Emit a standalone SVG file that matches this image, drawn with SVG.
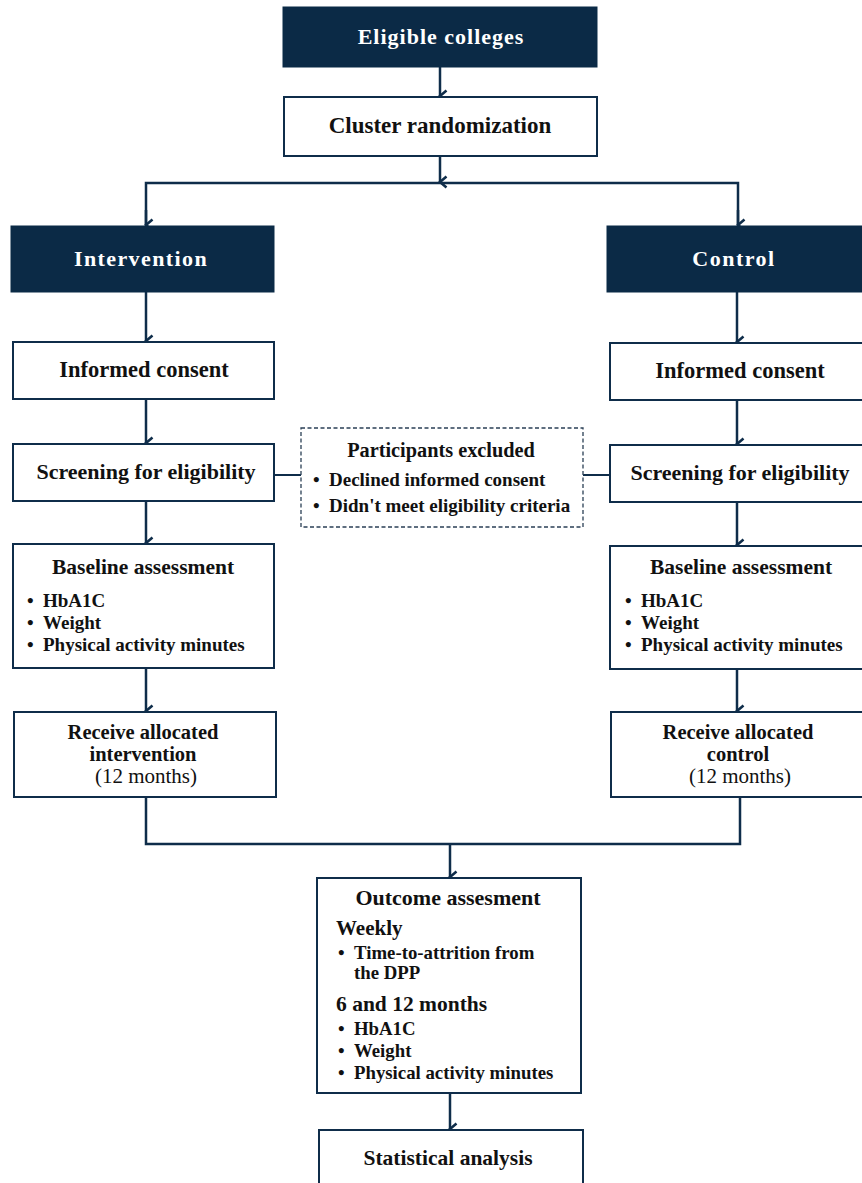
<svg xmlns="http://www.w3.org/2000/svg" width="862" height="1183" viewBox="0 0 862 1183">
<style>
text{font-family:"Liberation Serif","DejaVu Serif",serif;font-weight:bold;fill:#111}
.dark{fill:#0b2a46;stroke:#0b2a46;stroke-width:1}
.box{fill:#fff;stroke:#0f2d4a;stroke-width:2}
.dash{fill:#fff;stroke:#2a3f55;stroke-width:1.3;stroke-dasharray:4 2.5}
.wt{fill:#fff;font-size:22px;letter-spacing:1px}
.t{font-size:21.5px}
.b{font-size:19px}
.c{text-anchor:middle}
.reg{font-weight:normal}
.ln{fill:none;stroke:#0f2d4a;stroke-width:2.5}
</style>
<defs>
<marker id="ah" viewBox="0 0 14 12" refX="7" refY="10" markerWidth="14" markerHeight="12" markerUnits="userSpaceOnUse" orient="auto-start-reverse">
<path d="M1.5,3.5 L7,10 L12.5,3.5" fill="none" stroke="#0f2d4a" stroke-width="2.6"/>
</marker>
</defs>
<g id="connectors">
<line class="ln" x1="440" y1="67" x2="440" y2="96" marker-end="url(#ah)"/>
<line class="ln" x1="440" y1="156" x2="440" y2="182" marker-end="url(#ah)"/>
<polyline class="ln" points="146,225 146,183 738,183 738,225"/>
<line class="ln" x1="146" y1="210" x2="146" y2="225" marker-end="url(#ah)"/>
<line class="ln" x1="738" y1="210" x2="738" y2="225" marker-end="url(#ah)"/>
<line class="ln" x1="146" y1="292" x2="146" y2="341" marker-end="url(#ah)"/>
<line class="ln" x1="737" y1="292" x2="737" y2="342" marker-end="url(#ah)"/>
<line class="ln" x1="146" y1="399" x2="146" y2="443" marker-end="url(#ah)"/>
<line class="ln" x1="737" y1="400" x2="737" y2="444" marker-end="url(#ah)"/>
<line class="ln" x1="146" y1="501" x2="146" y2="543" marker-end="url(#ah)"/>
<line class="ln" x1="737" y1="502" x2="737" y2="545" marker-end="url(#ah)"/>
<line class="ln" x1="146" y1="668" x2="146" y2="711" marker-end="url(#ah)"/>
<line class="ln" x1="737" y1="669" x2="737" y2="711" marker-end="url(#ah)"/>
<line class="ln" x1="274" y1="475" x2="301" y2="475" style="stroke-width:2"/>
<line class="ln" x1="583" y1="475" x2="610" y2="475" style="stroke-width:2"/>
<polyline class="ln" points="146,797 146,844 740,844 740,797"/>
<line class="ln" x1="450" y1="844" x2="450" y2="877" marker-end="url(#ah)"/>
<line class="ln" x1="450" y1="1093" x2="450" y2="1129" marker-end="url(#ah)"/>
</g>
<g id="eligible">
<rect class="dark" x="283" y="7" width="314" height="60"/>
<text class="wt c" x="441" y="44">Eligible colleges</text>
</g>
<g id="cluster">
<rect class="box" x="284" y="97" width="313" height="59"/>
<text class="t c" x="440" y="133" style="font-size:23px">Cluster randomization</text>
</g>
<g id="intervention">
<rect class="dark" x="11" y="226" width="263" height="66"/>
<text class="wt c" x="141" y="266" style="letter-spacing:1.4px">Intervention</text>
</g>
<g id="control">
<rect class="dark" x="607" y="226" width="262" height="66"/>
<text class="wt c" x="734" y="266" style="letter-spacing:1.5px">Control</text>
</g>
<g id="consent-left">
<rect class="box" x="13" y="342" width="261" height="57"/>
<text class="t c" x="144" y="377" style="font-size:22.5px">Informed consent</text>
</g>
<g id="consent-right">
<rect class="box" x="610" y="343" width="258" height="57"/>
<text class="t c" x="740" y="378" style="font-size:22.5px">Informed consent</text>
</g>
<g id="screen-left">
<rect class="box" x="13" y="444" width="261" height="57"/>
<text class="t c" x="146" y="479" style="font-size:22px">Screening for eligibility</text>
</g>
<g id="screen-right">
<rect class="box" x="610" y="445" width="258" height="57"/>
<text class="t c" x="740" y="480" style="font-size:22px">Screening for eligibility</text>
</g>
<g id="excluded">
<rect class="dash" x="301" y="428" width="282" height="99"/>
<text class="t c" x="441" y="457" style="font-size:20.3px">Participants excluded</text>
<text class="b" x="313" y="486">•</text><text class="b" x="329" y="486">Declined informed consent</text>
<text class="b" x="313" y="512">•</text><text class="b" x="329" y="512">Didn't meet eligibility criteria</text>
</g>
<g id="baseline-left">
<rect class="box" x="13" y="544" width="261" height="124"/>
<text class="t c" x="143" y="574">Baseline assessment</text>
<text class="b" x="27" y="607">•</text><text class="b" x="43" y="607">HbA1C</text>
<text class="b" x="27" y="629">•</text><text class="b" x="43" y="629">Weight</text>
<text class="b" x="27" y="651">•</text><text class="b" x="43" y="651">Physical activity minutes</text>
</g>
<g id="baseline-right">
<rect class="box" x="610" y="546" width="258" height="123"/>
<text class="t c" x="741" y="574">Baseline assessment</text>
<text class="b" x="625" y="607">•</text><text class="b" x="641" y="607">HbA1C</text>
<text class="b" x="625" y="629">•</text><text class="b" x="641" y="629">Weight</text>
<text class="b" x="625" y="651">•</text><text class="b" x="641" y="651">Physical activity minutes</text>
</g>
<g id="receive-left">
<rect class="box" x="14" y="712" width="262" height="85"/>
<text class="t c" x="143" y="739" style="font-size:20.5px">Receive allocated</text>
<text class="t c" x="143" y="761" style="font-size:20.5px">intervention</text>
<text class="t c reg" x="146" y="783" style="font-size:21px">(12 months)</text>
</g>
<g id="receive-right">
<rect class="box" x="611" y="712" width="257" height="85"/>
<text class="t c" x="738" y="739" style="font-size:20.5px">Receive allocated</text>
<text class="t c" x="738" y="761" style="font-size:20.5px">control</text>
<text class="t c reg" x="740" y="783" style="font-size:21px">(12 months)</text>
</g>
<g id="outcome">
<rect class="box" x="317" y="878" width="264" height="215"/>
<text class="t c" x="448" y="905" style="font-size:22px">Outcome assesment</text>
<text class="t" x="336" y="935" style="font-size:21px">Weekly</text>
<text class="b" x="338" y="959" style="font-size:18.8px">•</text><text class="b" x="354" y="959" style="font-size:18.8px">Time-to-attrition from</text>
<text class="b" x="354" y="979" style="font-size:18.8px">the DPP</text>
<text class="t" x="336" y="1011" style="font-size:21.5px">6 and 12 months</text>
<text class="b" x="338" y="1035" style="font-size:18.8px">•</text><text class="b" x="354" y="1035" style="font-size:18.8px">HbA1C</text>
<text class="b" x="338" y="1057" style="font-size:18.8px">•</text><text class="b" x="354" y="1057" style="font-size:18.8px">Weight</text>
<text class="b" x="338" y="1079" style="font-size:18.8px">•</text><text class="b" x="354" y="1079" style="font-size:18.8px">Physical activity minutes</text>
</g>
<g id="statistical">
<rect class="box" x="319" y="1130" width="264" height="70"/>
<text class="t c" x="448" y="1165">Statistical analysis</text>
</g>
</svg>
